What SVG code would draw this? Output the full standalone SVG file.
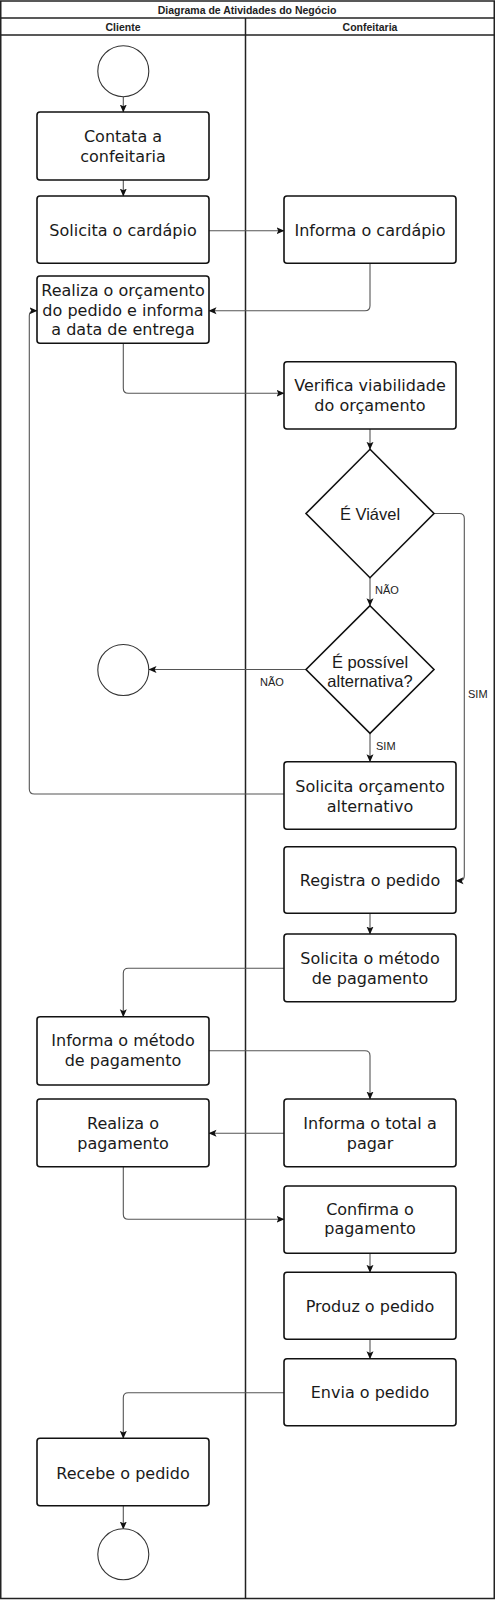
<svg xmlns="http://www.w3.org/2000/svg" width="497" height="1600" viewBox="0 0 497 1600">
<style>
.lane{fill:none;stroke:#222;stroke-width:1.5}
.hdr{font-family:"Liberation Sans",Arial,sans-serif;font-weight:bold;font-size:10.5px;fill:#222;text-anchor:middle;dominant-baseline:central}
.box{fill:#fff;stroke:#111;stroke-width:1.6}
.circ{fill:#fff;stroke:#333;stroke-width:1.1}
.dia{fill:#fff;stroke:#111;stroke-width:1.6}
.t{font-family:"DejaVu Sans",sans-serif;font-size:16px;fill:#1a1a1a;text-anchor:middle;dominant-baseline:central}
.dt{font-family:"Liberation Sans",Arial,sans-serif;font-size:16.5px;fill:#1a1a1a;text-anchor:middle;dominant-baseline:central}
.lbl{font-family:"Liberation Sans",Arial,sans-serif;font-size:11px;fill:#222;dominant-baseline:central}
.c{fill:none;stroke:#555;stroke-width:1.1;marker-end:url(#arr)}
</style>
<defs>
<marker id="arr" viewBox="0 0 8 8" refX="7.5" refY="4" markerWidth="8" markerHeight="8" markerUnits="userSpaceOnUse" orient="auto">
<path d="M0,0.5 L8,4 L0,7.5 L1.8,4 Z" fill="#111"/>
</marker>
</defs>
<rect width="497" height="1600" fill="#fff"/>
<g id="pool">
<rect class="lane" x="0.75" y="1" width="493.5" height="1597.5"/>
<line class="lane" x1="0.75" y1="18" x2="494.25" y2="18"/>
<line class="lane" x1="0.75" y1="35" x2="494.25" y2="35"/>
<line class="lane" x1="245.5" y1="18" x2="245.5" y2="1598.5"/>
<text class="hdr" x="247" y="9.5">Diagrama de Atividades do Negócio</text>
<text class="hdr" x="123" y="26.5">Cliente</text>
<text class="hdr" x="370" y="26.5">Confeitaria</text>
</g>
<g id="connectors">
<path class="c" d="M123.3,96.7 V112"/>
<path class="c" d="M123.3,180 V196"/>
<path class="c" d="M209,230.7 H284"/>
<path class="c" d="M370,263 V305.7 Q370,310.7 365,310.7 H209"/>
<path class="c" d="M123.3,343.3 V388.3 Q123.3,393.3 128.3,393.3 H284"/>
<path class="c" d="M370,429 V449.3"/>
<path class="c" d="M434,513.5 H459.3 Q464.3,513.5 464.3,518.5 V875.7 Q464.3,880.7 459.3,880.7 H456"/>
<path class="c" d="M370,577.7 V605.7"/>
<path class="c" d="M306,669.5 H149"/>
<path class="c" d="M370,733.3 V761.7"/>
<path class="c" d="M284,794 H34.3 Q29.3,794 29.3,789 V315.7 Q29.3,310.7 34.3,310.7 H37"/>
<path class="c" d="M370,913.3 V934"/>
<path class="c" d="M284,968.3 H128.3 Q123.3,968.3 123.3,973.3 V1016.7"/>
<path class="c" d="M209,1050.7 H365 Q370,1050.7 370,1055.7 V1099"/>
<path class="c" d="M284,1133.3 H209"/>
<path class="c" d="M123.3,1166.7 V1214.3 Q123.3,1219.3 128.3,1219.3 H284"/>
<path class="c" d="M370,1253.3 V1272.3"/>
<path class="c" d="M370,1339.3 V1358.7"/>
<path class="c" d="M284,1392.7 H128.3 Q123.3,1392.7 123.3,1397.7 V1438.3"/>
<path class="c" d="M123.3,1505.7 V1529"/>
<text class="lbl" x="375" y="590">NÃO</text>
<text class="lbl" x="468" y="693.5">SIM</text>
<text class="lbl" x="260" y="681.5">NÃO</text>
<text class="lbl" x="376" y="746">SIM</text>
</g>
<g id="start"><circle class="circ" cx="123.3" cy="71.2" r="25.5"/></g>
<g id="contata"><rect class="box" x="37" y="112" width="172" height="68" rx="3"/><text class="t" x="123" y="136.7">Contata a</text><text class="t" x="123" y="156.7">confeitaria</text></g>
<g id="solicita-cardapio"><rect class="box" x="37" y="196" width="172" height="67.3" rx="3"/><text class="t" x="123" y="230.5">Solicita o cardápio</text></g>
<g id="informa-cardapio"><rect class="box" x="284" y="196" width="172" height="67.3" rx="3"/><text class="t" x="370" y="230.5">Informa o cardápio</text></g>
<g id="realiza-orcamento"><rect class="box" x="37" y="276" width="172" height="67.3" rx="3"/><text class="t" x="123" y="290.7">Realiza o orçamento</text><text class="t" x="123" y="310.2">do pedido e informa</text><text class="t" x="123" y="329.5">a data de entrega</text></g>
<g id="verifica"><rect class="box" x="284" y="361.7" width="172" height="67.3" rx="3"/><text class="t" x="370" y="385">Verifica viabilidade</text><text class="t" x="370" y="405">do orçamento</text></g>
<g id="viavel"><polygon class="dia" points="370,449.3 434,513.5 370,577.7 306,513.5"/><text class="dt" x="370" y="513.5">É Viável</text></g>
<g id="alternativa"><polygon class="dia" points="370,605.7 434,669.5 370,733.3 306,669.5"/><text class="dt" x="370" y="661.7">É possível</text><text class="dt" x="370" y="680.7">alternativa?</text></g>
<g id="end-rejeitado"><circle class="circ" cx="123.3" cy="670" r="25.5"/></g>
<g id="solicita-alternativo"><rect class="box" x="284" y="761.7" width="172" height="67.6" rx="3"/><text class="t" x="370" y="786">Solicita orçamento</text><text class="t" x="370" y="806">alternativo</text></g>
<g id="registra"><rect class="box" x="284" y="846.7" width="172" height="66.6" rx="3"/><text class="t" x="370" y="880.5">Registra o pedido</text></g>
<g id="solicita-metodo"><rect class="box" x="284" y="934" width="172" height="67.7" rx="3"/><text class="t" x="370" y="958.3">Solicita o método</text><text class="t" x="370" y="978.3">de pagamento</text></g>
<g id="informa-metodo"><rect class="box" x="37" y="1016.7" width="172" height="68.3" rx="3"/><text class="t" x="123" y="1040">Informa o método</text><text class="t" x="123" y="1060">de pagamento</text></g>
<g id="realiza-pagamento"><rect class="box" x="37" y="1099" width="172" height="67.7" rx="3"/><text class="t" x="123" y="1123.3">Realiza o</text><text class="t" x="123" y="1143.3">pagamento</text></g>
<g id="informa-total"><rect class="box" x="284" y="1099" width="172" height="67.7" rx="3"/><text class="t" x="370" y="1123.3">Informa o total a</text><text class="t" x="370" y="1143.3">pagar</text></g>
<g id="confirma"><rect class="box" x="284" y="1186" width="172" height="67.3" rx="3"/><text class="t" x="370" y="1209.3">Confirma o</text><text class="t" x="370" y="1228.8">pagamento</text></g>
<g id="produz"><rect class="box" x="284" y="1272.3" width="172" height="67" rx="3"/><text class="t" x="370" y="1306.5">Produz o pedido</text></g>
<g id="envia"><rect class="box" x="284" y="1358.7" width="172" height="67" rx="3"/><text class="t" x="370" y="1392.3">Envia o pedido</text></g>
<g id="recebe"><rect class="box" x="37" y="1438.3" width="172" height="67.4" rx="3"/><text class="t" x="123" y="1473">Recebe o pedido</text></g>
<g id="end"><circle class="circ" cx="123.3" cy="1554.3" r="25.5"/></g>
</svg>
